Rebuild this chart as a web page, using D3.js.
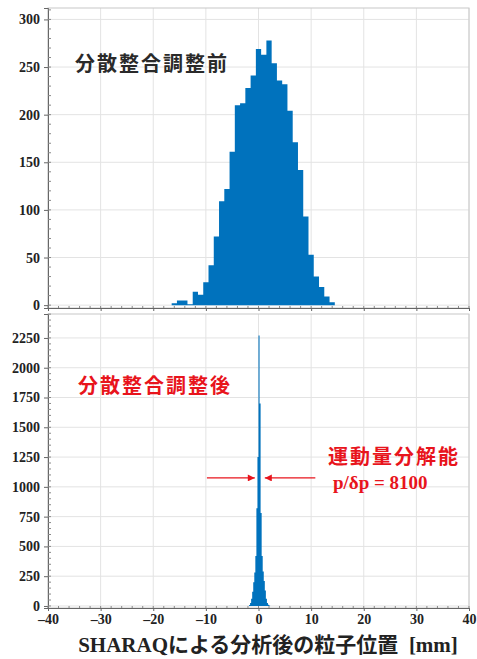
<!DOCTYPE html>
<html>
<head>
<meta charset="utf-8">
<script src="https://cdn.jsdelivr.net/npm/d3@7"></script>
<style>
  html, body { margin: 0; padding: 0; background: #fff; }
  svg { display: block; }
</style>
</head>
<body>
<div id="chart"></div>
<script>
// --- data ---
const xTickValues = [-40, -30, -20, -10, 0, 10, 20, 30, 40];
const topYTicks    = [0, 50, 100, 150, 200, 250, 300];
const bottomYTicks = [0, 250, 500, 750, 1000, 1250, 1500, 1750, 2000, 2250];

// before dispersion matching: 1 mm bins
const topBinWidth = 1;
const topBinCenters = [-16, -15, -14, -13, -12, -11, -10, -9, -8, -7, -6, -5, -4, -3, -2, -1,
                       0, 1, 2, 3, 4, 5, 6, 7, 8, 9, 10, 11, 12, 13, 14];
const topCounts = [2, 5, 5, 1, 14, 11, 24, 42, 72, 109, 122, 161, 210, 212, 228, 241,
                   269, 263, 278, 254, 236, 232, 204, 171, 142, 93, 53, 30, 19, 9, 3];

// after dispersion matching: 0.2 mm bins
const bottomBinWidth = 0.2;
const bottomBinCenters = [-1.7, -1.5, -1.3, -1.1, -0.9, -0.7, -0.5, -0.3, -0.1,
                          0.1, 0.3, 0.5, 0.7, 0.9, 1.1, 1.3, 1.5, 1.7, 1.9, 2.1];
const bottomCounts = [8, 25, 60, 120, 200, 280, 420, 820, 1250,
                      2270, 1700, 780, 420, 290, 210, 130, 60, 25, 10, 4];

const topLabel = "分散整合調整前";
const bottomLabel = "分散整合調整後";
const resolutionLabel = "運動量分解能";
const resolutionValue = "p/δp = 8100";
const fwhmArrows = { left: [-9.8, -0.7], right: [10.8, 1.2], value: 1075 };

// --- layout ---
const width = 477, height = 659;
const plotLeft = 48, plotRight = 469;
const serif = "'Liberation Serif', 'DejaVu Serif', serif";
const gothic = "'Noto Sans CJK JP', 'Noto Sans', sans-serif";
const blue = "#0072bd";
const red = "#e8141c";

const svg = d3.select("#chart").append("svg")
  .attr("width", width)
  .attr("height", height);

const x = d3.scaleLinear().domain([-40, 40]).range([plotLeft, plotRight]);

function panel(opts) {
  const y = d3.scaleLinear().domain(opts.yDomain).range([opts.bottom, opts.top]);
  const g = svg.append("g");

  // grid
  g.append("g").selectAll("line.vg")
    .data(xTickValues)
    .join("line")
      .attr("x1", d => x(d)).attr("x2", d => x(d))
      .attr("y1", opts.top).attr("y2", opts.bottom)
      .attr("stroke", "#e3e3e3").attr("stroke-width", 1);
  g.append("g").selectAll("line.hg")
    .data(opts.yTicks)
    .join("line")
      .attr("x1", plotLeft).attr("x2", plotRight)
      .attr("y1", d => y(d)).attr("y2", d => y(d))
      .attr("stroke", "#e3e3e3").attr("stroke-width", 1);

  // histogram as stepped area
  const pts = [];
  opts.centers.forEach((c, i) => {
    pts.push({ x: c - opts.binWidth / 2, v: opts.counts[i] });
    pts.push({ x: c + opts.binWidth / 2, v: opts.counts[i] });
  });
  g.append("path")
    .datum(pts)
    .attr("fill", blue)
    .attr("d", d3.area()
      .x(d => x(d.x))
      .y0(y(0))
      .y1(d => y(d.v)));

  // frame
  g.append("rect")
    .attr("x", plotLeft).attr("y", opts.top)
    .attr("width", plotRight - plotLeft).attr("height", opts.bottom - opts.top)
    .attr("fill", "none").attr("stroke", "#c8c8c8");

  // y axis
  const yAxis = g.append("g")
    .attr("transform", `translate(${plotLeft},0)`)
    .call(d3.axisLeft(y).tickValues(opts.yTicks).tickSize(4).tickPadding(4)
      .tickFormat(d3.format("d")));
  yAxis.select(".domain").attr("stroke", "#666");
  yAxis.selectAll(".tick line").attr("stroke", "#666");
  yAxis.selectAll("text")
    .attr("font-family", serif).attr("font-weight", "bold")
    .attr("font-size", 14).attr("fill", "#222");

  // minor y ticks
  g.append("g").selectAll("line")
    .data(y.ticks(opts.minorCount))
    .join("line")
      .attr("x1", plotLeft).attr("x2", plotLeft + 3)
      .attr("y1", d => y(d)).attr("y2", d => y(d))
      .attr("stroke", "#888");

  // x axis
  const xAxis = g.append("g")
    .attr("transform", `translate(0,${opts.bottom})`)
    .call(d3.axisBottom(x).tickValues(xTickValues).tickSize(3).tickPadding(3)
      .tickFormat(d => opts.showX ? (d < 0 ? "\u2013" + Math.abs(d) : d) : ""));
  xAxis.select(".domain").attr("stroke", "#666");
  xAxis.selectAll(".tick line").attr("stroke", "#666");
  xAxis.selectAll("text")
    .attr("font-family", serif).attr("font-weight", "bold")
    .attr("font-size", 14).attr("fill", "#222");

  g.append("g").selectAll("line")
    .data(x.ticks(40))
    .join("line")
      .attr("x1", d => x(d)).attr("x2", d => x(d))
      .attr("y1", opts.bottom).attr("y2", opts.bottom - 2)
      .attr("stroke", "#888");

  return y;
}

// top panel
panel({
  top: 8, bottom: 308, yDomain: [-3, 312], yTicks: topYTicks, minorCount: 30,
  centers: topBinCenters, counts: topCounts, binWidth: topBinWidth, showX: false
});

// bottom panel
const yB = panel({
  top: 314, bottom: 608, yDomain: [-17, 2451], yTicks: bottomYTicks, minorCount: 45,
  centers: bottomBinCenters, counts: bottomCounts, binWidth: bottomBinWidth, showX: true
});

// panel labels
svg.append("text")
  .attr("x", 75).attr("y", 71)
  .attr("font-family", gothic).attr("font-weight", "bold")
  .attr("font-size", 20).attr("letter-spacing", 2)
  .attr("fill", "#2a2a2a")
  .text(topLabel);

svg.append("text")
  .attr("x", 78).attr("y", 393)
  .attr("font-family", gothic).attr("font-weight", "bold")
  .attr("font-size", 20).attr("letter-spacing", 2)
  .attr("fill", red)
  .text(bottomLabel);

svg.append("text")
  .attr("x", 328).attr("y", 464)
  .attr("font-family", gothic).attr("font-weight", "bold")
  .attr("font-size", 20).attr("letter-spacing", 2)
  .attr("fill", red)
  .text(resolutionLabel);

svg.append("text")
  .attr("x", 333).attr("y", 489)
  .attr("font-family", serif).attr("font-weight", "bold")
  .attr("font-size", 19)
  .attr("fill", red)
  .text(resolutionValue);

// FWHM arrows
const defs = svg.append("defs");
defs.append("marker")
  .attr("id", "head")
  .attr("viewBox", "0 0 10 10")
  .attr("refX", 10).attr("refY", 5)
  .attr("markerWidth", 9).attr("markerHeight", 7)
  .attr("markerUnits", "userSpaceOnUse")
  .attr("orient", "auto")
  .append("path")
    .attr("d", "M0,0L10,5L0,10Z")
    .attr("fill", red);

[fwhmArrows.left, fwhmArrows.right].forEach(([from, to]) => {
  svg.append("line")
    .attr("x1", x(from)).attr("x2", x(to))
    .attr("y1", yB(fwhmArrows.value)).attr("y2", yB(fwhmArrows.value))
    .attr("stroke", red).attr("stroke-width", 1.2)
    .attr("marker-end", "url(#head)");
});

// x axis title
const title = svg.append("text")
  .attr("x", 268).attr("y", 652)
  .attr("text-anchor", "middle")
  .attr("font-weight", "bold")
  .attr("font-size", 21)
  .attr("fill", "#222")
  .style("white-space", "pre");
title.append("tspan").attr("font-family", serif).text("SHARAQ");
title.append("tspan").attr("font-family", gothic).text("による分析後の粒子位置");
title.append("tspan").attr("font-family", serif).text("  [mm]");
</script>
</body>
</html>
